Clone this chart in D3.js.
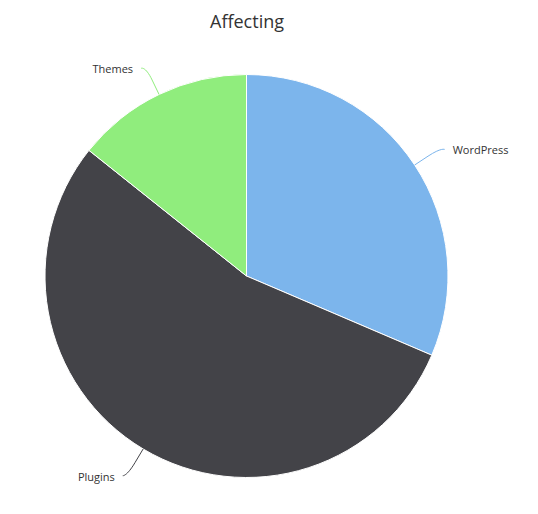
<!DOCTYPE html>
<html>
<head>
<meta charset="utf-8">
<script src="https://cdn.jsdelivr.net/npm/d3@7"></script>
<style>
  body { margin: 0; background: #fff; }
  text { font-family: "Open Sans", "Noto Sans", sans-serif; }
</style>
</head>
<body>
<script>
// Slices, clockwise from the top
const categories = ["WordPress", "Plugins", "Themes"];
const values = [22, 38, 10];
const colors = ["#7cb5ec", "#434348", "#90ed7d"];

const width = 538, height = 514;
const cx = 246.5, cy = 276, r = 201.5;
const labelDist = 30;

const svg = d3.select("body").append("svg")
    .attr("width", width)
    .attr("height", height);

// Title
svg.append("text")
  .attr("x", 247)
  .attr("y", 28)
  .attr("text-anchor", "middle")
  .style("font-size", "18px")
  .style("fill", "#333333")
  .text("Affecting");

const pie = d3.pie().sort(null).value(d => d.value);
const arcs = pie(categories.map((c, i) => ({name: c, value: values[i], color: colors[i]})));

const arc = d3.arc().innerRadius(0).outerRadius(r);

const g = svg.append("g")
    .attr("transform", `translate(${cx},${cy})`);

g.selectAll("path.slice")
  .data(arcs)
  .enter().append("path")
  .attr("class", "slice")
  .attr("d", arc)
  .attr("fill", d => d.data.color)
  .attr("stroke", "#ffffff")
  .attr("stroke-width", 1)
  .attr("stroke-linejoin", "round");

// point at radius rr along angle a (0 = top, clockwise)
const at = (a, rr) => [rr * Math.sin(a), -rr * Math.cos(a)];

// soft connectors + labels
arcs.forEach(d => {
  const a = (d.startAngle + d.endAngle) / 2;
  const side = Math.sin(a) >= 0 ? 1 : -1;
  const [lx, ly] = at(a, r + labelDist);
  const t = at(a, r);
  const b = at(a, r + 16);
  const end = [lx + side * 5, ly + 1];
  const path = `M${end[0]},${end[1]} C${end[0]},${end[1]} ${2 * b[0] - t[0]},${2 * b[1] - t[1]} ${b[0]},${b[1]} L${t[0]},${t[1]}`;
  g.append("path")
    .attr("d", path)
    .attr("fill", "none")
    .attr("stroke", d.data.color)
    .attr("stroke-width", 1);

  g.append("text")
    .attr("x", lx + side * 13)
    .attr("y", ly + 2)
    .attr("dy", "0.35em")
    .attr("text-anchor", side > 0 ? "start" : "end")
    .style("font-size", "11px")
    .style("fill", "#333333")
    .text(d.data.name);
});
</script>
</body>
</html>
